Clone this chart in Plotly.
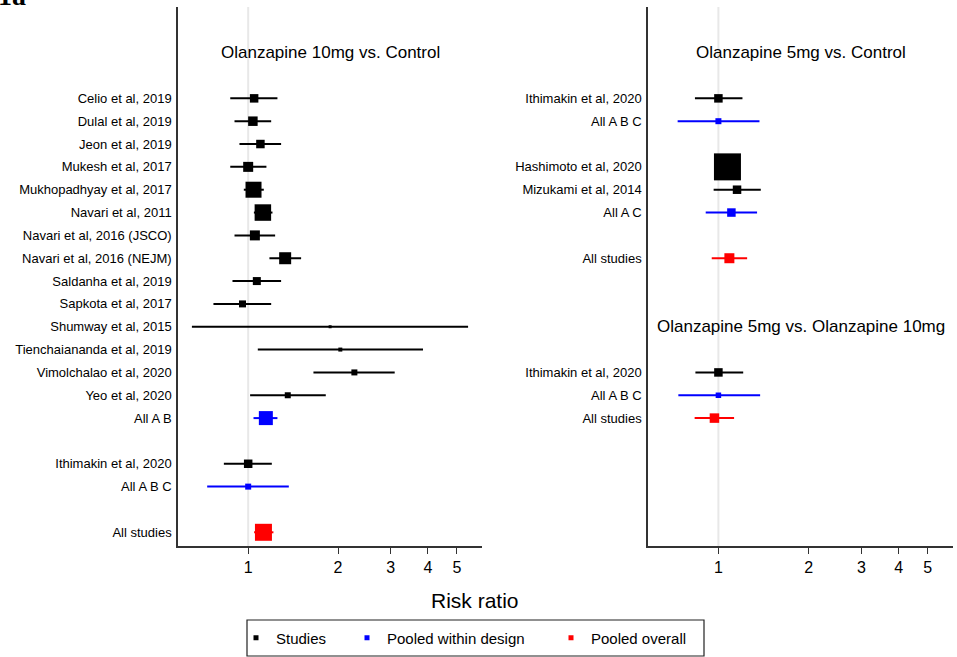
import plotly.graph_objects as go

# ---------------- data ----------------
# Panel 1: Olanzapine 10mg vs. Control
p1_labels = ["Celio et al, 2019", "Dulal et al, 2019", "Jeon et al, 2019", "Mukesh et al, 2017",
             "Mukhopadhyay et al, 2017", "Navari et al, 2011", "Navari et al, 2016 (JSCO)",
             "Navari et al, 2016 (NEJM)", "Saldanha et al, 2019", "Sapkota et al, 2017",
             "Shumway et al, 2015", "Tienchaiananda et al, 2019", "Vimolchalao et al, 2020",
             "Yeo et al, 2020", "All A B", "Ithimakin et al, 2020", "All A B C", "All studies"]
p1_rows = [0, 1, 2, 3, 4, 5, 6, 7, 8, 9, 10, 11, 12, 13, 14, 16, 17, 19]
p1_rr = [1.047, 1.037, 1.099, 1.0, 1.042, 1.12, 1.053, 1.33, 1.069, 0.957,
         1.881, 2.035, 2.268, 1.357, 1.146, 1.0, 1.0, 1.125]
p1_lo = [0.871, 0.90, 0.935, 0.871, 0.967, 1.045, 0.90, 1.178, 0.886, 0.765,
         0.648, 1.077, 1.654, 1.015, 1.042, 0.829, 0.729, 1.047]
p1_hi = [1.253, 1.194, 1.289, 1.151, 1.128, 1.206, 1.231, 1.504, 1.289, 1.194,
         5.45, 3.85, 3.095, 1.819, 1.253, 1.20, 1.368, 1.215]
p1_weight = [8.5, 9.5, 8.5, 10, 16, 16.5, 10, 12, 8, 7, 3, 4, 6, 6, 14, 8.5, 6, 17]
p1_kind = ["study"] * 14 + ["design", "study", "design", "overall"]

# Panel 2: Olanzapine 5mg vs. Control (rows 0-7) and 5mg vs. 10mg (rows 12-14)
p2_labels = ["Ithimakin et al, 2020", "All A B C", "Hashimoto et al, 2020", "Mizukami et al, 2014",
             "All A C", "All studies", "Ithimakin et al, 2020", "All A B C", "All studies"]
p2_rows = [0, 1, 3, 4, 5, 7, 12, 13, 14]
p2_rr = [1.0, 1.0, 1.072, 1.154, 1.105, 1.088, 1.0, 1.0, 0.97]
p2_lo = [0.835, 0.731, 1.01, 0.964, 0.907, 0.95, 0.838, 0.735, 0.833]
p2_hi = [1.203, 1.371, 1.14, 1.385, 1.346, 1.247, 1.21, 1.378, 1.128]
p2_weight = [8.5, 6, 27, 8.5, 8.5, 10, 8.5, 5.5, 9.5]
p2_kind = ["study", "design", "study", "study", "design", "overall", "study", "design", "overall"]

panel_titles = ["Olanzapine 10mg vs. Control", "Olanzapine 5mg vs. Control",
                "Olanzapine 5mg vs. Olanzapine 10mg"]
title_rows = [-2, -2, 10]
title_axes = ["1", "2", "2"]
x_ticks = [1, 2, 3, 4, 5]
legend_names = {"study": "Studies", "design": "Pooled within design", "overall": "Pooled overall"}
colors = {"study": "#000000", "design": "#0000ff", "overall": "#ff0000"}

FONT = "Liberation Sans, Arial, Helvetica, sans-serif"
W, H = 957, 657
Y_RANGE = [19.6, -4.0]
X_RANGE = [-0.235, 0.783]

fig = go.Figure()

def add_panel(ax, rows, rr, lo, hi, wt, kind):
    xa = "x" if ax == "1" else "x2"
    ya = "y" if ax == "1" else "y2"
    # reference line at RR = 1
    fig.add_trace(go.Scatter(x=[1, 1], y=Y_RANGE, mode="lines", xaxis=xa, yaxis=ya,
                             line=dict(color="#e8e8e8", width=2), showlegend=False,
                             hoverinfo="skip"))
    for k in ["study", "design", "overall"]:
        idx = [i for i, kk in enumerate(kind) if kk == k]
        if not idx:
            continue
        xs = [rr[i] for i in idx]
        fig.add_trace(go.Scatter(
            x=xs, y=[rows[i] for i in idx], mode="markers", xaxis=xa, yaxis=ya,
            marker=dict(symbol="square", color=colors[k], size=[wt[i] for i in idx],
                        opacity=1, line=dict(width=0)),
            error_x=dict(type="data", symmetric=False,
                         array=[hi[i] - rr[i] for i in idx],
                         arrayminus=[rr[i] - lo[i] for i in idx],
                         color=colors[k], thickness=2, width=0),
            showlegend=False))

add_panel("1", p1_rows, p1_rr, p1_lo, p1_hi, p1_weight, p1_kind)
add_panel("2", p2_rows, p2_rr, p2_lo, p2_hi, p2_weight, p2_kind)

# legend entries (three borderless legends inside one drawn box)
legend_keys = ["legend", "legend2", "legend3"]
legend_left = [236, 347, 551]
for k, lg in zip(["study", "design", "overall"], legend_keys):
    fig.add_trace(go.Scatter(x=[None], y=[None], mode="markers", name=legend_names[k],
                             marker=dict(symbol="square", color=colors[k], size=5, opacity=1),
                             showlegend=True, legend=lg))

axis_common_x = dict(type="log", range=X_RANGE, tickvals=x_ticks, ticktext=[str(t) for t in x_ticks],
                     ticks="outside", ticklen=6, tickwidth=1.2, tickcolor="#333",
                     showline=True, linecolor="#333", linewidth=1.5, showgrid=False,
                     zeroline=False, tickfont=dict(size=16, color="#000", family=FONT),
                     fixedrange=True)
axis_common_y = dict(range=Y_RANGE, showline=True, linecolor="#333", linewidth=1.5,
                     showgrid=False, zeroline=False, ticks="", ticklabelstandoff=2,
                     tickfont=dict(size=13, color="#000", family=FONT), fixedrange=True)

yb, yt = (H - 546) / H, (H - 7) / H
legend_common = dict(orientation="h", xanchor="left", y=(H - 638) / H, yanchor="middle",
                     borderwidth=0, font=dict(size=15, family=FONT, color="#000"),
                     itemwidth=30, bgcolor="rgba(0,0,0,0)")
fig.update_layout(
    width=W, height=H, margin=dict(l=0, r=0, t=0, b=0, autoexpand=False),
    paper_bgcolor="white", plot_bgcolor="white",
    font=dict(family=FONT, color="#000"),
    xaxis=dict(domain=[178 / W, 482 / W], anchor="y", automargin=False, **axis_common_x),
    yaxis=dict(domain=[yb, yt], anchor="x", automargin=False, tickvals=p1_rows, ticktext=p1_labels,
               **axis_common_y),
    xaxis2=dict(domain=[648 / W, 953 / W], anchor="y2", automargin=False, **axis_common_x),
    yaxis2=dict(domain=[yb, yt], anchor="x2", automargin=False, tickvals=p2_rows, ticktext=p2_labels,
                **axis_common_y),
    legend=dict(x=legend_left[0] / W, **legend_common),
    legend2=dict(x=legend_left[1] / W, **legend_common),
    legend3=dict(x=legend_left[2] / W, **legend_common),
    showlegend=True,
    shapes=[dict(type="rect", xref="paper", yref="paper", x0=247 / W, x1=704 / W,
                 y0=(H - 656) / H, y1=(H - 620) / H, line=dict(color="#222", width=1.2),
                 fillcolor="rgba(0,0,0,0)", layer="above")],
)

annos = []
for t, r, a in zip(panel_titles, title_rows, title_axes):
    annos.append(dict(text=t, x=0.5, xref=("x domain" if a == "1" else "x2 domain"),
                      y=r, yref=("y" if a == "1" else "y2"), showarrow=False,
                      font=dict(size=17, family=FONT, color="#000"), xanchor="center",
                      yanchor="middle"))
annos.append(dict(text="Risk ratio", x=475 / W, xref="paper", y=(H - 600) / H, yref="paper",
                  showarrow=False, font=dict(size=21, family=FONT, color="#000"),
                  xanchor="center", yanchor="middle"))
annos.append(dict(text="<b>1a</b>", x=-4 / W, xref="paper", y=(H + 22) / H, yref="paper",
                  showarrow=False, font=dict(size=28, family="Liberation Serif, Times New Roman, serif",
                                             color="#000"),
                  xanchor="left", yanchor="top"))
fig.update_layout(annotations=annos)

fig.write_html("out.html", config={"displayModeBar": False},
               post_script="document.body.style.margin='0';document.body.style.overflow='hidden';")
